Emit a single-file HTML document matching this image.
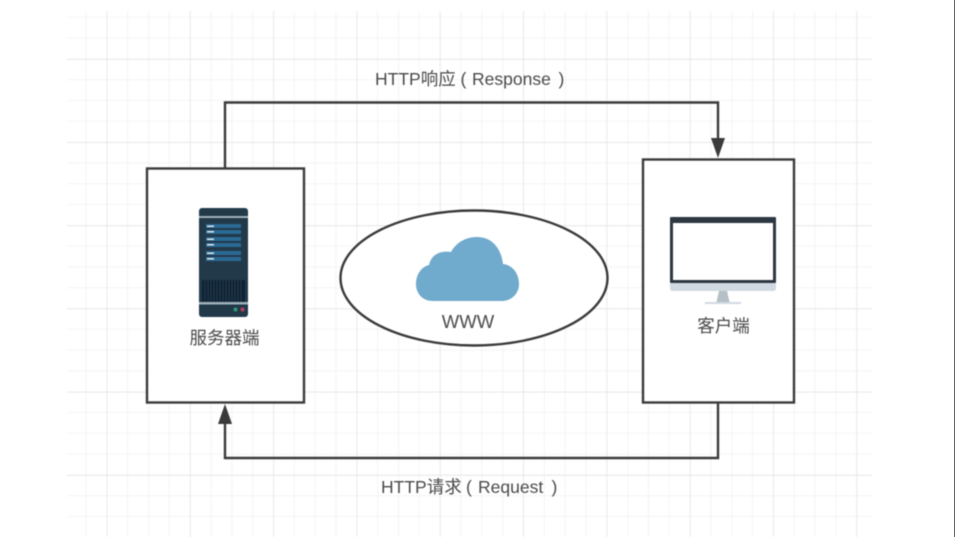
<!DOCTYPE html>
<html><head><meta charset="utf-8"><style>
html,body{margin:0;padding:0;background:#fff;width:955px;height:537px;overflow:hidden}
svg{display:block;filter:blur(0.45px)}
text{font-family:"Liberation Sans","Noto Sans CJK SC",sans-serif;fill:#4a4a4a}
.e{position:absolute;left:954px;top:0;width:1px;height:537px;background:#666}
</style></head><body>
<svg width="955" height="537" viewBox="0 0 955 537" xmlns="http://www.w3.org/2000/svg">
<defs>
<pattern id="g" x="85.7" y="17" width="20.83" height="20.8" patternUnits="userSpaceOnUse"><path d="M0 -1V22M-1 0H22" stroke="#eeeeee" stroke-width="1.3" fill="none"/></pattern>
<pattern id="G" x="106.5" y="59" width="83.32" height="83.2" patternUnits="userSpaceOnUse"><path d="M0 -1V85M-1 0H85" stroke="#e6e6e6" stroke-width="1.5" fill="none"/></pattern>
</defs>
<rect x="67" y="11" width="805" height="526" fill="url(#g)"/>
<rect x="67" y="11" width="805" height="526" fill="url(#G)"/>

<rect x="147" y="168.500" width="157" height="234" fill="#fff" stroke="#3a3a3a" stroke-width="2.400"/>
<rect x="643" y="159.500" width="151" height="243" fill="#fff" stroke="#3a3a3a" stroke-width="2.400"/>
<ellipse cx="474" cy="278" rx="133.500" ry="67.500" fill="#fff" stroke="#3a3a3a" stroke-width="2.400"/>

<path d="M225 168V102.500H718V140" fill="none" stroke="#3a3a3a" stroke-width="2.400"/>
<path d="M711 138H725L718 158Z" fill="#3a3a3a"/>
<path d="M718 403V458H225V422" fill="none" stroke="#3a3a3a" stroke-width="2.400"/>
<path d="M218 424H232L225 404Z" fill="#3a3a3a"/>

<!-- server -->
<rect x="199" y="208" width="49" height="109" rx="3" fill="#22394a"/>
<rect x="199" y="216" width="49" height="2" fill="#9fb0ba"/>
<rect x="206" y="224" width="35" height="4" fill="#2a6a94"/>
<rect x="206" y="230" width="35" height="4" fill="#2a6a94"/>
<rect x="206" y="237" width="35" height="4" fill="#2a6a94"/>
<rect x="206" y="243" width="35" height="4" fill="#2a6a94"/>
<rect x="206" y="251" width="35" height="4" fill="#2a6a94"/>
<rect x="206" y="257" width="35" height="4" fill="#2a6a94"/>
<g fill="#dfe8ee"><rect x="207" y="225.500" width="7" height="1.500"/><rect x="207" y="231" width="7" height="1.500"/><rect x="207" y="238.500" width="7" height="1.500"/><rect x="207" y="244" width="7" height="1.500"/><rect x="207" y="252.500" width="7" height="1.500"/><rect x="207" y="258" width="7" height="1.500"/></g>
<rect x="202" y="280" width="43" height="22" fill="#0f2233"/>
<g stroke="#2e4a5c" stroke-width="0.700"><path d="M205 280v22M208 280v22M211 280v22M214 280v22M217 280v22M220 280v22M223 280v22M226 280v22M229 280v22M232 280v22M235 280v22M238 280v22M241 280v22"/></g>
<rect x="199" y="302" width="49" height="2.500" fill="#9fb0ba"/>
<circle cx="235.500" cy="309.500" r="2" fill="#2f9a72"/>
<circle cx="242.500" cy="309.500" r="2" fill="#b8405a"/>
<text x="224.500" y="344" font-size="17.500" text-anchor="middle">服务器端</text>

<!-- monitor -->
<rect x="670" y="217" width="106" height="66" rx="1" fill="#2c3742"/>
<rect x="673" y="223" width="100" height="57" fill="#fff"/>
<path d="M670 283H776V288Q776 291 773 291H673Q670 291 670 288Z" fill="#d0d9e2"/>
<path d="M719 291H727L729.500 302H716.500Z" fill="#b4bfc6"/>
<rect x="705" y="302" width="36" height="2" fill="#d0d9e2"/>
<text x="723.500" y="332" font-size="17.500" text-anchor="middle">客户端</text>

<!-- cloud -->
<path d="M433 301C422 301 416 293 416 284C416 275 421 267 429 265C431 255 440 250 451 252C456 243 465 237 477 237C491 237 501 247 503 264C513 265 519 274 519 284C519 294 511 301 502 301Z" fill="#70aacc"/>
<text x="468" y="328" font-size="18.500" text-anchor="middle">WWW</text>

<text y="85" font-size="17.500"><tspan x="375">HTTP响应</tspan><tspan x="460.500">(</tspan><tspan x="472">Response</tspan><tspan x="558.500">)</tspan></text>
<text y="493" font-size="17.500"><tspan x="381">HTTP请求</tspan><tspan x="466">(</tspan><tspan x="478">Request</tspan><tspan x="551.500">)</tspan></text>
</svg>
<div class="e"></div>
</body></html>
